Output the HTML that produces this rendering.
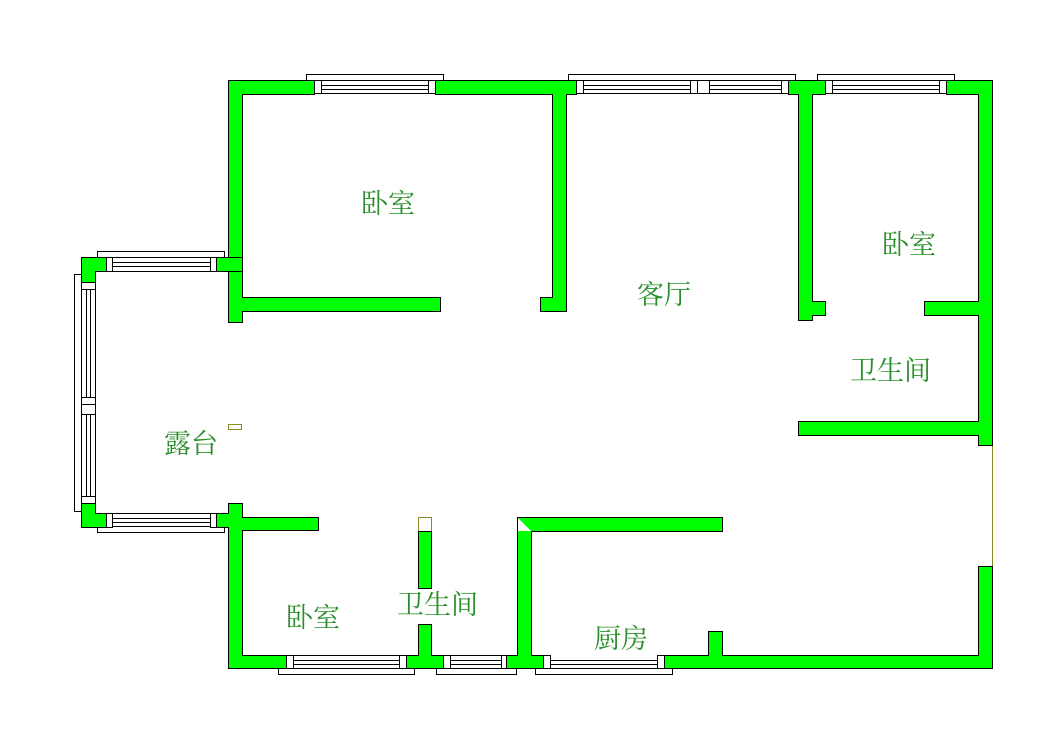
<!DOCTYPE html>
<html><head><meta charset="utf-8"><style>
html,body{margin:0;padding:0;background:#fff;}
svg{display:block;}
text{font-family:"Liberation Serif","Noto Serif CJK SC",serif;font-size:27px;fill:#2a8f2a;font-weight:normal;}
</style></head><body>
<svg width="1051" height="733" viewBox="0 0 1051 733" xmlns="http://www.w3.org/2000/svg">
<g fill="#fff" stroke="#000" stroke-width="1">
<rect x="306.5" y="74.5" width="137" height="6"/>
<rect x="568.5" y="74.5" width="227" height="6"/>
<rect x="817.5" y="74.5" width="137" height="6"/>
<rect x="97.5" y="251.5" width="127" height="6"/>
<rect x="74.5" y="274.5" width="7" height="237"/>
<rect x="97.5" y="526.5" width="127" height="6"/>
<rect x="278.5" y="668.5" width="136" height="6"/>
<rect x="436.5" y="668.5" width="80" height="6"/>
<rect x="535.5" y="668.5" width="137" height="6"/>
</g>
<g stroke="#000" stroke-width="1">
<line x1="321" y1="85.5" x2="428" y2="85.5"/><line x1="321" y1="89.5" x2="428" y2="89.5"/>
<line x1="321" y1="93.5" x2="428" y2="93.5"/><line x1="321" y1="80.5" x2="428" y2="80.5"/>
<line x1="583" y1="85.5" x2="781" y2="85.5"/><line x1="583" y1="89.5" x2="781" y2="89.5"/>
<line x1="583" y1="93.5" x2="781" y2="93.5"/><line x1="583" y1="80.5" x2="781" y2="80.5"/>
<line x1="832" y1="85.5" x2="939" y2="85.5"/><line x1="832" y1="89.5" x2="939" y2="89.5"/>
<line x1="832" y1="93.5" x2="939" y2="93.5"/><line x1="832" y1="80.5" x2="939" y2="80.5"/>
<line x1="112" y1="262.5" x2="210" y2="262.5"/><line x1="112" y1="266.5" x2="210" y2="266.5"/>
<line x1="112" y1="271.5" x2="210" y2="271.5"/><line x1="112" y1="257.5" x2="210" y2="257.5"/>
<line x1="112" y1="513.5" x2="210" y2="513.5"/><line x1="112" y1="518.5" x2="210" y2="518.5"/>
<line x1="112" y1="522.5" x2="210" y2="522.5"/><line x1="112" y1="526.5" x2="210" y2="526.5"/>
<line x1="86.5" y1="289" x2="86.5" y2="496"/><line x1="90.5" y1="289" x2="90.5" y2="496"/>
<line x1="95.5" y1="289" x2="95.5" y2="496"/><line x1="81.5" y1="289" x2="81.5" y2="496"/>
<line x1="293" y1="655.5" x2="399" y2="655.5"/><line x1="293" y1="660.5" x2="399" y2="660.5"/>
<line x1="293" y1="664.5" x2="399" y2="664.5"/><line x1="293" y1="668.5" x2="399" y2="668.5"/>
<line x1="451" y1="655.5" x2="501" y2="655.5"/><line x1="451" y1="660.5" x2="501" y2="660.5"/>
<line x1="451" y1="664.5" x2="501" y2="664.5"/><line x1="451" y1="668.5" x2="501" y2="668.5"/>
<line x1="551" y1="660.5" x2="657" y2="660.5"/><line x1="551" y1="664.5" x2="657" y2="664.5"/>
<line x1="551" y1="668.5" x2="657" y2="668.5"/>
<line x1="992.5" y1="445" x2="992.5" y2="566" stroke="#8a8a20"/>
</g>
<g fill="#fff" stroke="#000" stroke-width="1">
<rect x="314.5" y="80.5" width="7" height="13"/><rect x="428.5" y="80.5" width="7" height="13"/>
<rect x="576.5" y="80.5" width="7" height="13"/><rect x="690.5" y="80.5" width="7" height="13"/>
<rect x="697.5" y="80.5" width="12" height="13"/><rect x="781.5" y="80.5" width="7" height="13"/>
<rect x="825.5" y="80.5" width="7" height="13"/><rect x="939.5" y="80.5" width="7" height="13"/>
<rect x="106.5" y="257.5" width="6" height="14"/><rect x="210.5" y="257.5" width="6" height="14"/>
<rect x="106.5" y="513.5" width="6" height="14"/><rect x="210.5" y="513.5" width="6" height="14"/>
<rect x="81.5" y="282.5" width="14" height="7"/><rect x="81.5" y="496.5" width="14" height="7"/>
<rect x="81.5" y="397.5" width="14" height="7"/><rect x="81.5" y="404.5" width="14" height="10"/>
<rect x="286.5" y="655.5" width="7" height="13"/><rect x="399.5" y="655.5" width="7" height="13"/>
<rect x="443.5" y="655.5" width="7" height="13"/><rect x="501.5" y="655.5" width="5" height="13"/>
<rect x="543.5" y="655.5" width="7" height="13"/><rect x="657.5" y="655.5" width="7" height="13"/>
<rect x="418.5" y="517.5" width="13" height="14" stroke="#8a8a20"/>
<rect x="228.5" y="424.5" width="13" height="5" stroke="#8a8a20"/>
</g>
<g fill="#00ff00" stroke="#000" stroke-width="1">
<path d="M228.5 80.5 H314.5 V94.5 H242.5 V297.5 H440.5 V311.5 H242.5 V322.5 H228.5 Z"/>
<path d="M435.5 80.5 H576.5 V94.5 H566.5 V311.5 H540.5 V297.5 H552.5 V94.5 H435.5 Z"/>
<path d="M788.5 80.5 H825.5 V94.5 H812.5 V301.5 H825.5 V315.5 H812.5 V320.5 H798.5 V94.5 H788.5 Z"/>
<path d="M946.5 80.5 H992.5 V445.5 H978.5 V435.5 H798.5 V421.5 H978.5 V315.5 H924.5 V301.5 H978.5 V94.5 H946.5 Z"/>
<path d="M81.5 257.5 H106.5 V271.5 H95.5 V282.5 H81.5 Z"/>
<path d="M216.5 257.5 H242.5 V271.5 H216.5 Z"/>
<path d="M81.5 503.5 H95.5 V513.5 H106.5 V527.5 H81.5 Z"/>
<path d="M228.5 503.5 H242.5 V517.5 H318.5 V530.5 H242.5 V655.5 H286.5 V668.5 H228.5 V527.5 H216.5 V513.5 H228.5 Z"/>
<path d="M418.5 531.5 H431.5 V588.5 H418.5 Z"/>
<path d="M418.5 624.5 H431.5 V655.5 H443.5 V668.5 H406.5 V655.5 H418.5 Z"/>
<path d="M517.5 517.5 H722.5 V531.5 H531.5 V655.5 H543.5 V668.5 H506.5 V655.5 H517.5 Z"/>
<path d="M664.5 655.5 H708.5 V631.5 H722.5 V655.5 H978.5 V566.5 H992.5 V668.5 H664.5 Z"/>
</g>
<polygon points="518,518 531,531 518,531" fill="#fff"/>
<text x="361" y="213">卧室</text>
<text x="637" y="304">客厅</text>
<text x="882" y="254">卧室</text>
<text x="850" y="380">卫生间</text>
<text x="164" y="453">露台</text>
<text x="286" y="627">卧室</text>
<text x="397" y="614">卫生间</text>
<text x="594" y="648">厨房</text>
</svg>
</body></html>
